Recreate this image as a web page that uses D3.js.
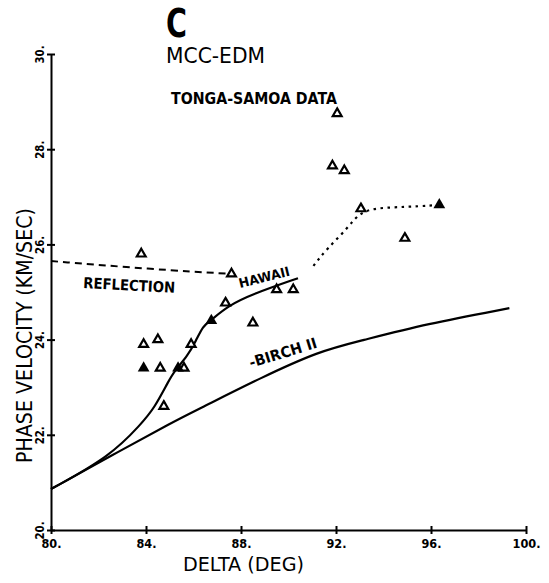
<!DOCTYPE html>
<html>
<head>
<meta charset="utf-8">
<script src="https://cdn.jsdelivr.net/npm/d3@7"></script>
<style>
body { margin: 0; background: #fff; }
svg { display: block; }
</style>
</head>
<body>
<script>
// axis ticks
const xTicks = [80, 84, 88, 92, 96, 100]
const yTicks = [20, 22, 24, 26, 28, 30]

// observations (open and solid triangles)
const openX = [83.8, 87.6, 89.5, 90.2, 87.35, 88.5, 85.9, 83.9, 84.5, 84.6, 85.6, 84.75, 92.05, 91.85, 92.35, 93.05, 94.9]
const openY = [25.8, 25.38, 25.05, 25.05, 24.77, 24.35, 23.9, 23.9, 24.0, 23.4, 23.4, 22.6, 28.75, 27.65, 27.55, 26.75, 26.13]
const solidX = [86.75, 83.9, 85.35, 96.35]
const solidY = [24.4, 23.4, 23.4, 26.83]

// model curves
const birchX = [80, 82.5, 85.2, 86.3, 88.8, 91.3, 93, 95.8, 99.3]
const birchY = [20.86, 21.55, 22.29, 22.56, 23.19, 23.76, 23.97, 24.33, 24.66]
const hawaiiX = [80, 82.5, 83.8, 84.35, 84.95, 85.2, 85.75, 86.1, 86.4, 86.7, 87.45, 88.5, 90.4]
const hawaiiY = [20.86, 21.55, 22.23, 22.56, 23.13, 23.34, 23.66, 23.97, 24.29, 24.39, 24.71, 24.96, 25.29]
const reflX = [80, 84.2, 87.6]
const reflY = [25.65, 25.48, 25.38]
const dotX = [91.05, 91.6, 92.5, 93.07, 94.4, 95.5, 96.34]
const dotY = [25.55, 25.9, 26.34, 26.74, 26.78, 26.8, 26.83]

const W = 549, H = 583
const font = "'DejaVu Sans', sans-serif"

const svg = d3.select('body').append('svg').attr('width', W).attr('height', H)

const x = d3.scaleLinear().domain([80, 100]).range([51, 526])
const y = d3.scaleLinear().domain([20, 30]).range([530, 54])

// x axis
const gx = svg.append('g')
  .attr('transform', `translate(0,${y(20)})`)
  .call(d3.axisBottom(x).tickValues(xTicks).tickSize(4).tickSizeOuter(0).tickFormat(d => d + '.'))
gx.select('.domain').attr('stroke-width', 2)
gx.selectAll('.tick line').attr('y1', -4).attr('y2', 4).attr('stroke-width', 2)
gx.selectAll('.tick text')
  .attr('y', 18).attr('dy', null)
  .attr('font-family', font).attr('font-weight', 'bold').attr('font-size', 13)
  .attr('textLength', d => String(d).length * 8 + 4).attr('lengthAdjust', 'spacingAndGlyphs')

// y axis
const gy = svg.append('g')
  .attr('transform', `translate(${x(80)},0)`)
  .call(d3.axisLeft(y).tickValues(yTicks).tickSize(4).tickSizeOuter(0).tickFormat(d => d + '.'))
gy.select('.domain').attr('stroke-width', 2)
gy.selectAll('.tick line').attr('x1', -4).attr('x2', 4).attr('stroke-width', 2)
gy.selectAll('.tick text')
  .attr('x', null).attr('dy', null)
  .attr('transform', 'translate(-7,0) rotate(-90)')
  .attr('text-anchor', 'middle')
  .attr('font-family', font).attr('font-weight', 'bold').attr('font-size', 13)
  .attr('textLength', 18).attr('lengthAdjust', 'spacingAndGlyphs')

// curves
const line = d3.line().x(d => x(d[0])).y(d => y(d[1])).curve(d3.curveBasis)
const curve = (xs, ys, dash, width) => svg.append('path')
  .datum(d3.zip(xs, ys))
  .attr('d', line)
  .attr('fill', 'none')
  .attr('stroke', '#000')
  .attr('stroke-width', width)
  .attr('stroke-dasharray', dash)

curve(birchX, birchY, null, 2.2)
curve(hawaiiX, hawaiiY, null, 2.2)
curve(reflX, reflY, '7 5', 2)
curve(dotX, dotY, '2.5 4.5', 2.2)

// triangles
svg.selectAll('.open')
  .data(d3.zip(openX, openY))
  .join('path')
  .attr('class', 'open')
  .attr('transform', d => `translate(${x(d[0])},${y(d[1])})`)
  .attr('d', d3.symbol(d3.symbolTriangle, 34))
  .attr('fill', '#fff').attr('stroke', '#000').attr('stroke-width', 2.2)

svg.selectAll('.solid')
  .data(d3.zip(solidX, solidY))
  .join('path')
  .attr('class', 'solid')
  .attr('transform', d => `translate(${x(d[0])},${y(d[1])})`)
  .attr('d', d3.symbol(d3.symbolTriangle, 60))
  .attr('fill', '#000')

// titles
const txt = (s, px, py, size, weight, len, rot) => {
  const t = svg.append('text')
    .attr('font-family', font)
    .attr('font-size', size)
    .attr('font-weight', weight)
    .attr('fill', '#000')
    .text(s)
  if (len) t.attr('textLength', len).attr('lengthAdjust', 'spacingAndGlyphs')
  t.attr('transform', `translate(${px},${py})` + (rot ? ` rotate(${rot})` : ''))
  return t
}

txt('C', 166, 36, 37, 900, 21).attr('transform', 'translate(166,37) scale(1,1.05)')
txt('MCC-EDM', 166, 63, 22, 'normal', 99)
txt('TONGA-SAMOA DATA', 171, 104, 16, 'bold', 166)
txt('REFLECTION', 83, 288, 15, 'bold', 92, 3)
txt('HAWAII', 240, 288, 13, 'bold', 52, -14)
txt('-BIRCH II', 251, 368, 15, 'bold', 70, -17)

txt('DELTA (DEG)', 183, 571, 20, 'normal', 121)
txt('PHASE VELOCITY (KM/SEC)', 32, 463, 22, 'normal', 255, -90)
</script>
</body>
</html>
